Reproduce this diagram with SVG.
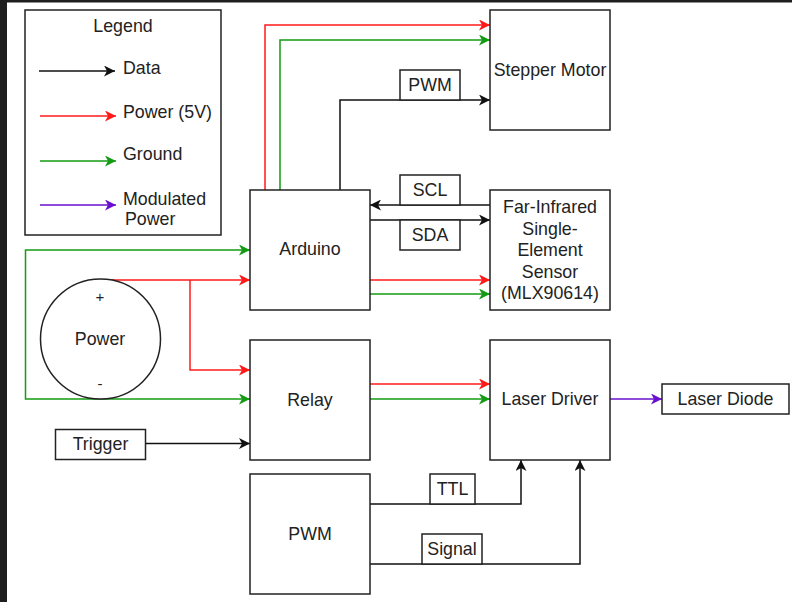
<svg xmlns="http://www.w3.org/2000/svg" width="792" height="602" viewBox="0 0 792 602">
<style>
.box{fill:#fff;stroke:#222;stroke-width:1.5}
.t{font-family:"Liberation Sans",Arial,sans-serif;font-size:17.8px;fill:#222;text-anchor:middle}
.tl{font-family:"Liberation Sans",Arial,sans-serif;font-size:17.8px;fill:#222;text-anchor:start}
.k{fill:none;stroke:#111;stroke-width:1.5}
.r{fill:none;stroke:#ff1a1a;stroke-width:1.5}
.g{fill:none;stroke:#139c13;stroke-width:1.5}
.p{fill:none;stroke:#6a0fcf;stroke-width:1.5}
</style>
<defs>
<marker id="ak" markerUnits="userSpaceOnUse" markerWidth="12" markerHeight="11" refX="11" refY="5.5" orient="auto"><path d="M0,0 L11,5.5 L0,11 L3,5.5 z" fill="#111"/></marker>
<marker id="ar" markerUnits="userSpaceOnUse" markerWidth="12" markerHeight="11" refX="11" refY="5.5" orient="auto"><path d="M0,0 L11,5.5 L0,11 L3,5.5 z" fill="#ff1a1a"/></marker>
<marker id="ag" markerUnits="userSpaceOnUse" markerWidth="12" markerHeight="11" refX="11" refY="5.5" orient="auto"><path d="M0,0 L11,5.5 L0,11 L3,5.5 z" fill="#139c13"/></marker>
<marker id="ap" markerUnits="userSpaceOnUse" markerWidth="12" markerHeight="11" refX="11" refY="5.5" orient="auto"><path d="M0,0 L11,5.5 L0,11 L3,5.5 z" fill="#6a0fcf"/></marker>
</defs>
<rect x="0" y="0" width="792" height="602" fill="#fff"/>
<rect x="0" y="0" width="792" height="2.5" fill="#1e1e1e"/>
<rect x="0" y="0" width="7" height="602" fill="#1e1e1e"/>

<g id="legend">
<rect class="box" x="25" y="10" width="196" height="225"/>
<text class="t" x="123" y="32">Legend</text>
<path class="k" d="M39,71 L115,71" marker-end="url(#ak)"/>
<text class="tl" x="123" y="74">Data</text>
<path class="r" d="M40,116 L116,116" marker-end="url(#ar)"/>
<text class="tl" x="123" y="118">Power (5V)</text>
<path class="g" d="M40,161 L116,161" marker-end="url(#ag)"/>
<text class="tl" x="123" y="160">Ground</text>
<path class="p" d="M40,205 L116,205" marker-end="url(#ap)"/>
<text class="tl" x="123" y="205">Modulated</text>
<text class="tl" x="125" y="225">Power</text>
</g>

<g id="connectors">
<path class="r" d="M265,190 L265,25 L490,25" marker-end="url(#ar)"/>
<path class="g" d="M280,190 L280,40 L490,40" marker-end="url(#ag)"/>
<path class="k" d="M340,190 L340,100 L490,100" marker-end="url(#ak)"/>
<path class="k" d="M490,205 L370,205" marker-end="url(#ak)"/>
<path class="k" d="M370,220 L490,220" marker-end="url(#ak)"/>
<path class="r" d="M370,280 L490,280" marker-end="url(#ar)"/>
<path class="g" d="M370,294 L490,294" marker-end="url(#ag)"/>
<path class="r" d="M100,280 L250,280" marker-end="url(#ar)"/>
<path class="r" d="M190,280 L190,370 L250,370" marker-end="url(#ar)"/>
<path class="g" d="M100,399 L25.5,399 L25.5,250 L250,250" marker-end="url(#ag)"/>
<path class="g" d="M100,399 L250,399" marker-end="url(#ag)"/>
<path class="k" d="M145,443.5 L250,443.5" marker-end="url(#ak)"/>
<path class="r" d="M370,384 L490,384" marker-end="url(#ar)"/>
<path class="g" d="M370,399 L490,399" marker-end="url(#ag)"/>
<path class="p" d="M610,399 L662,399" marker-end="url(#ap)"/>
<path class="k" d="M370,504 L521,504 L521,460" marker-end="url(#ak)"/>
<path class="k" d="M370,564 L580,564 L580,460" marker-end="url(#ak)"/>
<rect class="box" x="400" y="70" width="60" height="30"/>
<text class="t" x="430" y="91">PWM</text>
<rect class="box" x="400" y="175" width="60" height="30"/>
<text class="t" x="430" y="196">SCL</text>
<rect class="box" x="400" y="220" width="60" height="30"/>
<text class="t" x="430" y="241">SDA</text>
<rect class="box" x="430" y="474" width="45" height="30"/>
<text class="t" x="452.5" y="495">TTL</text>
<rect class="box" x="422" y="534" width="60" height="30"/>
<text class="t" x="452" y="555">Signal</text>
</g>

<g id="stepper">
<rect class="box" x="490" y="10" width="120" height="120"/>
<text class="t" x="550" y="76">Stepper Motor</text>
</g>
<g id="sensor">
<rect class="box" x="490" y="190" width="120" height="120"/>
<text class="t" x="550" y="213">Far-Infrared</text>
<text class="t" x="550" y="235">Single-</text>
<text class="t" x="550" y="256">Element</text>
<text class="t" x="550" y="278">Sensor</text>
<text class="t" x="550" y="299">(MLX90614)</text>
</g>
<g id="arduino">
<rect class="box" x="250" y="190" width="120" height="120"/>
<text class="t" x="310" y="255">Arduino</text>
</g>
<g id="power">
<circle cx="100.5" cy="339" r="60" fill="#fff" stroke="#222" stroke-width="1.5"/>
<text class="t" x="100" y="302" style="font-size:15px">+</text>
<text class="t" x="100" y="345">Power</text>
<text class="t" x="100" y="389" style="font-size:15px">-</text>
</g>
<g id="relay">
<rect class="box" x="250" y="340" width="120" height="120"/>
<text class="t" x="310" y="406">Relay</text>
</g>
<g id="trigger">
<rect class="box" x="55.5" y="429.5" width="90" height="30"/>
<text class="t" x="100.5" y="450">Trigger</text>
</g>
<g id="laserdriver">
<rect class="box" x="490" y="340" width="120" height="120"/>
<text class="t" x="550" y="405">Laser Driver</text>
</g>
<g id="laserdiode">
<rect class="box" x="662" y="384" width="127" height="30"/>
<text class="t" x="725.5" y="405">Laser Diode</text>
</g>
<g id="pwm">
<rect class="box" x="250" y="474" width="120" height="120"/>
<text class="t" x="310" y="540">PWM</text>
</g>
</svg>
